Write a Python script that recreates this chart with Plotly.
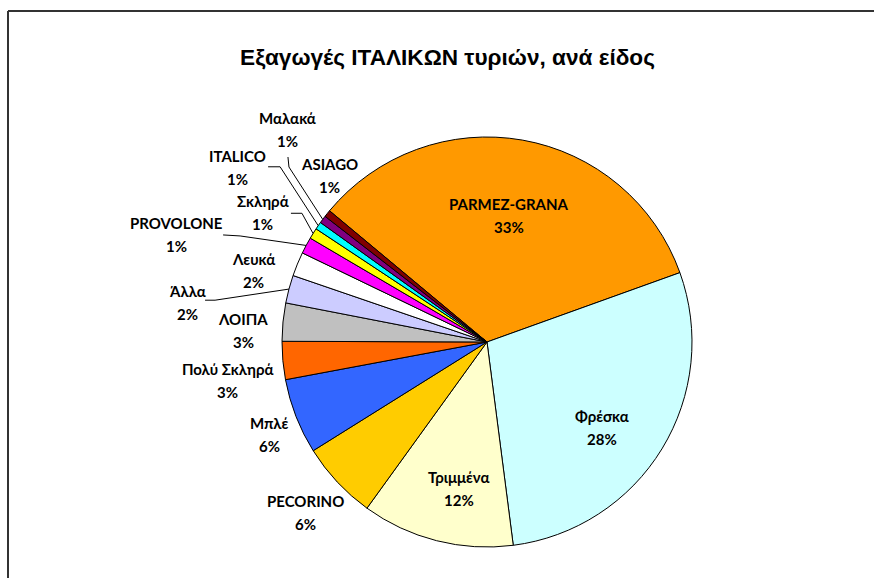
import math
import plotly.graph_objects as go

# ---------------- data ----------------
labels = ["PARMEZ-GRANA", "Φρέσκα", "Τριμμένα", "PECORINO", "Μπλέ", "Πολύ Σκληρά",
          "ΛΟΙΠΑ", "Άλλα", "Λευκά", "PROVOLONE", "Σκληρά", "ITALICO", "Μαλακά", "ASIAGO"]
values = [33.45, 28.45, 12.0, 6.15, 5.95, 3.0, 3.0, 2.2, 1.9, 1.3, 0.85, 0.6, 0.6, 0.55]
title_text = "Εξαγωγές ΙΤΑΛΙΚΩΝ τυριών, ανά είδος"

# ---------------- style ----------------
colors = ["#FF9900", "#CCFFFF", "#FFFFCC", "#FFCC00", "#3366FF", "#FF6600",
          "#C0C0C0", "#CCCCFF", "#FFFFFF", "#FF00FF", "#FFFF00", "#00FFFF",
          "#800080", "#800000"]
W, H = 874, 578
CX, CY, R = 487, 342, 205          # pie centre / radius in pixels
ROTATION = -50.2                   # start angle of first slice (clockwise from 12 o'clock)

# label placement: radius factor and angular offset from slice mid-angle
label_k = [0.629, 0.70, 0.73, 1.215, 1.154, 1.277, 1.191, 1.476, 1.193, 1.604, 1.263, 1.486, 1.422, 1.115]
label_dang = [0.0, 5.3, -3.4, -0.2, -1.7, -3.15, -3.0, -7.4, -5.4, -9.1, -1.9, 0.3, 10.2, 7.8]
LINE_GAP = 11.5
# leader lines: (start offset, elbow offset) in px relative to label centre
leaders = {
    "Μαλακά": ((0, 28), (1, 38)),
    "ITALICO": ((31, -1), (43, -1)),
    "Σκληρά": ((28, 1), (39, 1)),
    "PROVOLONE": ((47, 0), (64, 1)),
    "Άλλα": ((18, -2), (28, -2)),
}
LABEL_FONT = dict(family="Lato, Carlito, sans-serif", size=15, color="black", weight="bold")


def polar(a_deg, k):
    a = math.radians(a_deg)
    return CX + k * R * math.sin(a), CY - k * R * math.cos(a)


def px(x, y):
    return x / W, 1 - y / H


total = sum(values)
mids = []
a = ROTATION
for v in values:
    span = v / total * 360
    mids.append(a + span / 2)
    a += span

fig = go.Figure(go.Pie(
    labels=labels, values=values, sort=False, direction="clockwise",
    rotation=ROTATION,
    marker=dict(colors=colors, line=dict(color="black", width=1)),
    textinfo="none", hoverinfo="label+percent", showlegend=False,
    domain=dict(x=[(CX - R) / W, (CX + R) / W], y=[(H - CY - R) / H, (H - CY + R) / H]),
))

annotations = []
shapes = []
for lab, v, m, k, d in zip(labels, values, mids, label_k, label_dang):
    lx, ly = polar(m + d, k)
    pct = f"{round(v / total * 100)}%"
    for txt, dy in ((lab, -LINE_GAP), (pct, LINE_GAP)):
        x, y = px(lx, ly + dy)
        annotations.append(dict(x=x, y=y, xref="paper", yref="paper", text=txt,
                                showarrow=False, font=LABEL_FONT,
                                xanchor="center", yanchor="middle"))
    if lab in leaders:
        (sx, sy), (ex, ey) = leaders[lab]
        p0 = px(lx + sx, ly + sy)
        p1 = px(lx + ex, ly + ey)
        p2 = px(*polar(m, 1.0))
        path = f"M {p0[0]},{p0[1]} L {p1[0]},{p1[1]} L {p2[0]},{p2[1]}"
        shapes.append(dict(type="path", xref="paper", yref="paper", path=path,
                           line=dict(color="black", width=1)))

# chart-area border (top and left visible)
shapes.append(dict(type="line", xref="paper", yref="paper", x0=8 / W, x1=1.01,
                   y0=1 - 11 / H, y1=1 - 11 / H, line=dict(color="#333333", width=2)))
shapes.append(dict(type="line", xref="paper", yref="paper", x0=8 / W, x1=8 / W,
                   y0=1 - 11 / H, y1=-0.01, line=dict(color="#333333", width=2)))

fig.update_layout(
    width=W, height=H, margin=dict(l=0, r=0, t=0, b=0),
    paper_bgcolor="white", plot_bgcolor="white",
    title=dict(text=title_text, x=447.5 / W, y=1 - 57 / H, xanchor="center", yanchor="middle",
               font=dict(family="Liberation Sans, Arial, sans-serif", size=22.6, color="black",
                         weight="bold")),
    annotations=annotations, shapes=shapes,
)

fig.write_html("out.html", config={"displayModeBar": False},
               post_script="document.body.style.margin='0';")
